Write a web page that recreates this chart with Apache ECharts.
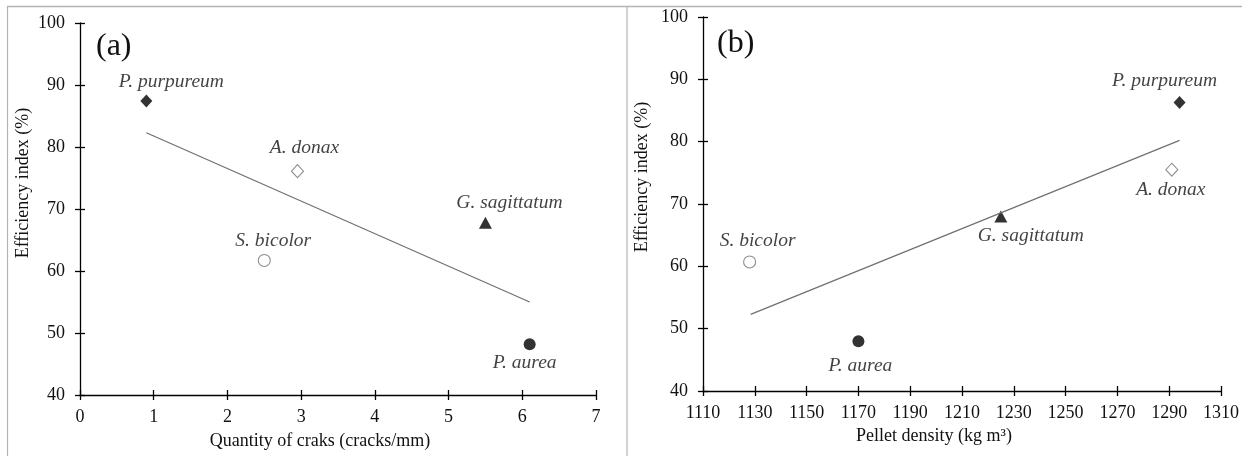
<!DOCTYPE html>
<html>
<head>
<meta charset="utf-8">
<script src="https://cdn.jsdelivr.net/npm/echarts@6/dist/echarts.min.js"></script>
<style>
  html, body { margin: 0; padding: 0; background: #fff; }
  #chart { width: 1242px; height: 456px; }
</style>
</head>
<body>
<div id="chart"></div>
<script>
// data
const species = ['P. purpureum', 'A. donax', 'S. bicolor', 'G. sagittatum', 'P. aurea']
const cracks = [0.9, 2.95, 2.5, 5.5, 6.1]
const efficiencyA = [87.4, 76.1, 61.7, 67.8, 48.2]
const density = [1294, 1291, 1128, 1225, 1170]
const efficiencyB = [86.3, 75.5, 60.7, 68.0, 48.0]
// regression lines (end points)
const trendA = [[0.9, 82.3], [6.1, 55.0]]
const trendB = [[1128.4, 52.3], [1294, 80.2]]

const FONT = '"Liberation Serif", "DejaVu Serif", serif'
const INK = '#111'

// marker per species (same order as species)
const markers = [
  { symbol: 'diamond', symbolSize: [12, 13], itemStyle: { color: '#000' } },
  { symbol: 'diamond', symbolSize: [12, 13], itemStyle: { color: '#fff', borderColor: '#707070', borderWidth: 1.1 } },
  { symbol: 'circle', symbolSize: 12, itemStyle: { color: '#fff', borderColor: '#707070', borderWidth: 1.1 } },
  { symbol: 'triangle', symbolSize: [13, 12], itemStyle: { color: '#000' } },
  { symbol: 'circle', symbolSize: 12, itemStyle: { color: '#000' } },
]
const offsetsA = [[25, -19], [7, -23], [9, -20], [24, -20], [-5, 19]]
const offsetsB = [[-15, -22], [-1, 20], [8, -21], [30, 19], [2, 25]]

function points(xs, ys, offsets) {
  return species.map(function (name, i) {
    return {
      name: name,
      value: [xs[i], ys[i]],
      symbol: markers[i].symbol,
      symbolSize: markers[i].symbolSize,
      itemStyle: markers[i].itemStyle,
      label: { offset: offsets[i] }
    }
  })
}

const axisText = { fontFamily: FONT, fontSize: 18, color: INK, formatter: function (v) { return String(v) } }
const nameText = { fontFamily: FONT, fontSize: 18, color: INK }

function mainX(grid, min, max, interval, name, gap, pad) {
  return {
    type: 'value', gridIndex: grid, position: 'bottom', min: min, max: max, interval: interval,
    name: name, nameLocation: 'middle', nameGap: gap,
    nameTextStyle: Object.assign({ padding: pad }, nameText),
    axisLine: { onZero: false, lineStyle: { color: '#000', width: 1.3 } },
    axisTick: { inside: false, length: 5, lineStyle: { color: '#000', width: 1.3 } },
    axisLabel: Object.assign({ margin: 13 }, axisText),
    splitLine: { show: false }
  }
}
function innerX(grid, min, max, interval) {
  return {
    type: 'value', gridIndex: grid, position: 'bottom', min: min, max: max, interval: interval,
    axisLine: { show: false, onZero: false },
    axisTick: { inside: true, length: 5, lineStyle: { color: '#000', width: 1.3 } },
    axisLabel: { show: false },
    splitLine: { show: false }
  }
}
function mainY(grid, gap, pad) {
  return {
    type: 'value', gridIndex: grid, position: 'left', min: 40, max: 100, interval: 10,
    name: 'Efficiency index (%)', nameLocation: 'middle', nameGap: gap,
    nameTextStyle: Object.assign({ padding: pad }, nameText),
    axisLine: { onZero: false, lineStyle: { color: '#000', width: 1.3 } },
    axisTick: { inside: false, length: 5, lineStyle: { color: '#000', width: 1.3 } },
    axisLabel: Object.assign({ margin: 15 }, axisText),
    splitLine: { show: false }
  }
}
function innerY(grid) {
  return {
    type: 'value', gridIndex: grid, position: 'left', min: 40, max: 100, interval: 10,
    axisLine: { show: false, onZero: false },
    axisTick: { inside: true, length: 5, lineStyle: { color: '#000', width: 1.3 } },
    axisLabel: { show: false },
    splitLine: { show: false }
  }
}

const speciesLabel = {
  show: true,
  position: 'inside',
  formatter: '{b}',
  fontFamily: FONT,
  fontStyle: 'italic',
  fontSize: 19.5,
  color: INK
}

const chart = echarts.init(document.getElementById('chart'))
chart.setOption({
  backgroundColor: '#fff',
  animation: false,
  title: [
    { text: '(a)', left: 91, top: 26, textStyle: { fontFamily: FONT, fontSize: 32, fontWeight: 'normal', color: INK } },
    { text: '(b)', left: 712, top: 23, textStyle: { fontFamily: FONT, fontSize: 32, fontWeight: 'normal', color: INK } }
  ],
  grid: [
    { left: 80, top: 23, width: 516, height: 372 },
    { left: 703, top: 17, width: 518, height: 374 }
  ],
  xAxis: [
    mainX(0, 0, 7, 1, 'Quantity of craks (cracks/mm)', 37, [0, 36, 0, 0]),
    innerX(0, 0, 7, 1),
    mainX(1, 1110, 1310, 20, 'Pellet density (kg m³)', 33, [0, 56, 0, 0]),
    innerX(1, 1110, 1310, 20)
  ],
  yAxis: [
    mainY(0, 48, [0, 0, 0, 52]),
    innerY(0),
    mainY(1, 52, [0, 0, 0, 54]),
    innerY(1)
  ],
  series: [
    {
      type: 'line', xAxisIndex: 0, yAxisIndex: 0, data: trendA, symbol: 'none', silent: true,
      lineStyle: { color: '#707070', width: 1.2 }
    },
    {
      type: 'scatter', xAxisIndex: 0, yAxisIndex: 0, data: points(cracks, efficiencyA, offsetsA),
      label: speciesLabel
    },
    {
      type: 'line', xAxisIndex: 2, yAxisIndex: 2, data: trendB, symbol: 'none', silent: true,
      lineStyle: { color: '#707070', width: 1.2 }
    },
    {
      type: 'scatter', xAxisIndex: 2, yAxisIndex: 2, data: points(density, efficiencyB, offsetsB),
      label: speciesLabel
    }
  ],
  graphic: [
    { type: 'line', shape: { x1: 7, y1: 6.5, x2: 1242, y2: 6.5 }, style: { stroke: '#b4b4b4', lineWidth: 1.5 } },
    { type: 'line', shape: { x1: 7.5, y1: 6, x2: 7.5, y2: 456 }, style: { stroke: '#b4b4b4', lineWidth: 1.2 } },
    { type: 'line', shape: { x1: 627, y1: 6, x2: 627, y2: 456 }, style: { stroke: '#b4b4b4', lineWidth: 1.2 } }
  ]
})
</script>
</body>
</html>
